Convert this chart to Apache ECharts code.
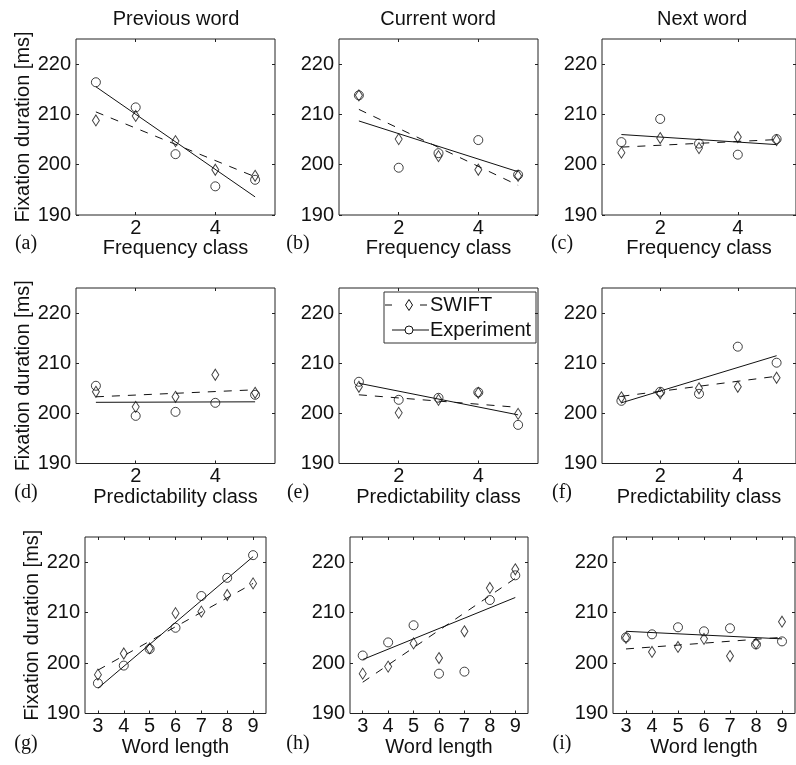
<!DOCTYPE html>
<html>
<head>
<meta charset="utf-8">
<title>Fixation duration: SWIFT vs. experiment</title>
<script src="https://cdn.jsdelivr.net/npm/echarts@6/dist/echarts.min.js"></script>
<style>
  html, body { margin: 0; padding: 0; background: #fff; }
  #chart { width: 796px; height: 765px; }
</style>
</head>
<body>
<div id="chart"></div>
<script>
// ---- data ----------------------------------------------------------------
const classes = [1, 2, 3, 4, 5];
const wordLengths = [3, 4, 5, 6, 7, 8, 9];

const classTicks = [2, 4];
const lengthTicks = [3, 4, 5, 6, 7, 8, 9];
const durationTicks = [190, 200, 210, 220];

const columnTitles = ['Previous word', 'Current word', 'Next word'];
const rowAxisNames = ['Frequency class', 'Predictability class', 'Word length'];
const panelLetters = ['(a)', '(b)', '(c)', '(d)', '(e)', '(f)', '(g)', '(h)', '(i)'];

// (a) previous word, frequency
const expA = [216.4, 211.4, 202.1, 195.7, 197.0];
const swiftA = [208.8, 209.7, 204.7, 199.0, 197.8];
const fitExpA = [215.5, 193.6];
const fitSwiftA = [210.5, 197.6];
// (b) current word, frequency
const expB = [213.8, 199.4, 202.3, 204.9, 198.0];
const swiftB = [213.8, 205.1, 201.7, 199.0, 197.8];
const fitExpB = [208.7, 198.6];
const fitSwiftB = [211.0, 195.9];
// (c) next word, frequency
const expC = [204.5, 209.1, 204.2, 202.0, 205.1];
const swiftC = [202.4, 205.3, 203.3, 205.5, 204.9];
const fitExpC = [206.0, 204.0];
const fitSwiftC = [203.5, 205.0];
// (d) previous word, predictability
const expD = [205.5, 199.5, 200.3, 202.1, 203.7];
const swiftD = [204.3, 201.3, 203.3, 207.7, 204.1];
const fitExpD = [202.2, 202.3];
const fitSwiftD = [203.3, 204.7];
// (e) current word, predictability
const expE = [206.3, 202.7, 203.1, 204.2, 197.7];
const swiftE = [205.3, 200.1, 202.7, 204.1, 199.9];
const fitExpE = [206.0, 199.7];
const fitSwiftE = [203.7, 201.2];
// (f) next word, predictability
const expF = [202.5, 204.3, 203.9, 213.3, 210.1];
const swiftF = [203.2, 204.0, 205.0, 205.3, 207.1];
const fitExpF = [202.1, 211.5];
const fitSwiftF = [203.4, 207.4];
// (g) previous word, length
const expG = [196.0, 199.5, 202.8, 207.0, 213.3, 216.9, 221.4];
const swiftG = [197.7, 201.9, 202.9, 209.9, 210.2, 213.5, 215.8];
const fitExpG = [195.0, 221.1];
const fitSwiftG = [198.6, 215.8];
// (h) current word, length
const expH = [201.5, 204.1, 207.5, 197.9, 198.3, 212.5, 217.4];
const swiftH = [197.9, 199.3, 203.9, 201.0, 206.3, 214.9, 218.6];
const fitExpH = [200.7, 213.0];
const fitSwiftH = [196.2, 216.8];
// (i) next word, length
const expI = [205.1, 205.7, 207.1, 206.3, 206.9, 203.7, 204.3];
const swiftI = [205.0, 202.2, 203.2, 204.8, 201.4, 203.9, 208.2];
const fitExpI = [206.3, 204.8];
const fitSwiftI = [202.8, 205.1];

const panelData = [
  [expA, swiftA, fitExpA, fitSwiftA],
  [expB, swiftB, fitExpB, fitSwiftB],
  [expC, swiftC, fitExpC, fitSwiftC],
  [expD, swiftD, fitExpD, fitSwiftD],
  [expE, swiftE, fitExpE, fitSwiftE],
  [expF, swiftF, fitExpF, fitSwiftF],
  [expG, swiftG, fitExpG, fitSwiftG],
  [expH, swiftH, fitExpH, fitSwiftH],
  [expI, swiftI, fitExpI, fitSwiftI]
];

// ---- layout ---------------------------------------------------------------
const FONT = 'Liberation Sans';
const SERIF = 'Liberation Serif';
const INK = '#111';
const FS = 20;

const rowTop = [39, 288, 537];
const rowHeight = [176, 175.5, 176.5];
const colLeft = [[76, 339, 602], [76, 339, 602], [85, 350, 613]];
const colWidth = [[199, 199, 200], [199, 199, 200], [181, 178, 182]];
const letterX = [26, 298, 562];
const letterY = [244, 493, 744];

const grids = [], xAxes = [], yAxes = [], series = [], graphics = [];

for (let p = 0; p < 9; p++) {
  const row = Math.floor(p / 3), col = p % 3;
  const isLength = row === 2;
  const xs = isLength ? wordLengths : classes;
  const xMin = isLength ? 2.5 : 0.5, xMax = isLength ? 9.5 : 5.5;
  const xTicks = isLength ? lengthTicks : classTicks;
  const [exp, swift, fitExp, fitSwift] = panelData[p];

  grids.push({
    left: colLeft[row][col], top: rowTop[row],
    width: colWidth[row][col], height: rowHeight[row],
    show: true, borderColor: '#222', borderWidth: 1, backgroundColor: 'transparent'
  });

  const tickStyle = { show: true, inside: true, length: 3, lineStyle: { color: '#222', width: 1 } };

  // bottom axis with labels, and a bare top axis for the mirrored ticks
  xAxes.push({
    type: 'value', gridIndex: p, position: 'bottom', min: xMin, max: xMax,
    splitLine: { show: false }, axisLine: { show: false },
    axisTick: Object.assign({ customValues: xTicks }, tickStyle),
    axisLabel: { customValues: xTicks, margin: 3, color: INK, fontFamily: FONT, fontSize: FS },
    name: rowAxisNames[row], nameLocation: 'middle', nameGap: 21,
    nameTextStyle: { color: INK, fontFamily: FONT, fontSize: FS }
  });
  xAxes.push({
    type: 'value', gridIndex: p, position: 'top', min: xMin, max: xMax,
    splitLine: { show: false }, axisLine: { show: false }, axisLabel: { show: false },
    axisTick: Object.assign({ customValues: xTicks }, tickStyle)
  });

  yAxes.push({
    type: 'value', gridIndex: p, position: 'left', min: 190, max: 225,
    splitLine: { show: false }, axisLine: { show: false },
    axisTick: Object.assign({ customValues: durationTicks }, tickStyle),
    axisLabel: { customValues: durationTicks, margin: 5, color: INK, fontFamily: FONT, fontSize: FS },
    name: col === 0 ? 'Fixation duration [ms]' : '', nameLocation: 'middle', nameGap: 43,
    nameTextStyle: { color: INK, fontFamily: FONT, fontSize: FS }
  });
  yAxes.push({
    type: 'value', gridIndex: p, position: 'right', min: 190, max: 225,
    splitLine: { show: false }, axisLine: { show: false }, axisLabel: { show: false },
    axisTick: Object.assign({ customValues: durationTicks }, tickStyle)
  });

  const ax = { xAxisIndex: 2 * p, yAxisIndex: 2 * p };
  const first = xs[0], last = xs[xs.length - 1];

  series.push(Object.assign({
    type: 'line', name: 'Experiment fit', symbol: 'none', silent: true, z: 3,
    lineStyle: { color: INK, width: 1 },
    data: [[first, fitExp[0]], [last, fitExp[1]]]
  }, ax));
  series.push(Object.assign({
    type: 'line', name: 'SWIFT fit', symbol: 'none', silent: true, z: 3,
    lineStyle: { color: INK, width: 1, type: [8, 8] },
    data: [[first, fitSwift[0]], [last, fitSwift[1]]]
  }, ax));
  series.push(Object.assign({
    type: 'scatter', name: 'Experiment', symbol: 'circle', symbolSize: 9, silent: true, z: 4,
    itemStyle: { color: 'rgba(0,0,0,0)', borderColor: INK, borderWidth: 1 },
    data: xs.map((x, i) => [x, exp[i]])
  }, ax));
  series.push(Object.assign({
    type: 'scatter', name: 'SWIFT', symbol: 'diamond', symbolSize: [7, 11], silent: true, z: 4,
    itemStyle: { color: 'rgba(0,0,0,0)', borderColor: INK, borderWidth: 1 },
    data: xs.map((x, i) => [x, swift[i]])
  }, ax));

  // panel letter, placed by its centre
  graphics.push({
    type: 'text', x: letterX[col], y: letterY[row],
    style: { text: panelLetters[p], fill: INK, font: FS + 'px "' + SERIF + '"', align: 'center', verticalAlign: 'middle' }
  });
}

// column titles
const titleX = [176, 438, 702];
columnTitles.forEach((t, i) => {
  graphics.push({
    type: 'text', x: titleX[i], y: 19,
    style: { text: t, fill: INK, font: FS + 'px "' + FONT + '"', align: 'center', verticalAlign: 'middle' }
  });
});

// legend box in panel (e)
graphics.push({
  type: 'group', z: 10, children: [
    { type: 'rect', shape: { x: 384, y: 292, width: 152, height: 51 },
      style: { fill: '#fff', stroke: '#333', lineWidth: 1 } },
    { type: 'line', shape: { x1: 385, y1: 305, x2: 392, y2: 305 }, style: { stroke: INK, lineWidth: 1 } },
    { type: 'line', shape: { x1: 420, y1: 305, x2: 427, y2: 305 }, style: { stroke: INK, lineWidth: 1 } },
    { type: 'polygon', shape: { points: [[409, 299.5], [412.5, 305], [409, 310.5], [405.5, 305]] },
      style: { fill: 'none', stroke: INK, lineWidth: 1 } },
    { type: 'text', x: 430, y: 305,
      style: { text: 'SWIFT', fill: INK, font: FS + 'px "' + FONT + '"', verticalAlign: 'middle' } },
    { type: 'line', shape: { x1: 392, y1: 330, x2: 429, y2: 330 }, style: { stroke: INK, lineWidth: 1 } },
    { type: 'circle', shape: { cx: 409, cy: 330, r: 4 }, style: { fill: '#fff', stroke: INK, lineWidth: 1 } },
    { type: 'text', x: 430, y: 330,
      style: { text: 'Experiment', fill: INK, font: FS + 'px "' + FONT + '"', verticalAlign: 'middle' } }
  ]
});

const chart = echarts.init(document.getElementById('chart'), null, { renderer: 'canvas' });
chart.setOption({
  animation: false,
  backgroundColor: '#fff',
  grid: grids,
  xAxis: xAxes,
  yAxis: yAxes,
  series: series,
  graphic: graphics
});
</script>
</body>
</html>
